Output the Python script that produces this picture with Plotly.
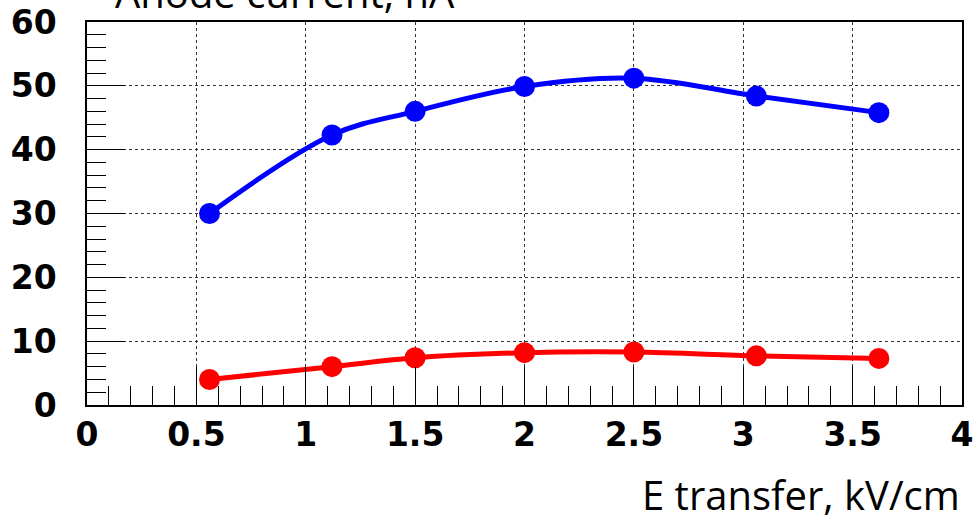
import plotly.graph_objects as go

# Transfer field (kV/cm) and anode currents (nA) for the two configurations
e_transfer = [0.56, 1.12, 1.5, 2.0, 2.5, 3.06, 3.62]
current_blue = [30.0, 42.3, 46.0, 49.9, 51.2, 48.4, 45.8]
current_red = [4.0, 6.0, 7.4, 8.2, 8.3, 7.7, 7.3]

x_ticks = [0, 0.5, 1, 1.5, 2, 2.5, 3, 3.5, 4]
x_tick_text = ["0", "0.5", "1", "1.5", "2", "2.5", "3", "3.5", "4"]
y_ticks = [0, 10, 20, 30, 40, 50, 60]

fig = go.Figure()
for ys, col in [(current_blue, "#0000ff"), (current_red, "#ff0000")]:
    fig.add_trace(go.Scatter(
        x=e_transfer, y=ys, mode="lines+markers",
        line=dict(color=col, width=5, shape="spline", smoothing=1.0),
        marker=dict(color=col, size=21, symbol="circle"),
        showlegend=False,
    ))

tick_font = dict(family="DejaVu Sans", size=33, color="black", weight="bold")
title_font = dict(family="Open Sans", size=40, color="black")

fig.update_xaxes(
    range=[0, 4], tickvals=x_ticks, ticktext=x_tick_text,
    ticks="inside", ticklen=38, tickwidth=1, tickcolor="black",
    minor=dict(dtick=0.1, ticks="inside", ticklen=19, tickwidth=1,
               tickcolor="black", showgrid=False),
    showgrid=True, gridcolor="#333333", griddash="dot", gridwidth=1,
    showline=True, linecolor="black", linewidth=1.5, mirror=True,
    zeroline=False, tickfont=tick_font, ticklabelstandoff=0,
    automargin=False,
)
fig.update_yaxes(
    range=[0, 60], tickvals=y_ticks,
    ticks="inside", ticklen=38, tickwidth=1, tickcolor="black",
    minor=dict(dtick=2, ticks="inside", ticklen=19, tickwidth=1,
               tickcolor="black", showgrid=False),
    showgrid=True, gridcolor="#333333", griddash="dot", gridwidth=1,
    showline=True, linecolor="black", linewidth=1.5, mirror=True,
    zeroline=False, tickfont=tick_font, ticklabelstandoff=22,
    automargin=False,
)

fig.add_annotation(
    text="Anode current, nA", xref="paper", yref="paper",
    x=0.03, y=1.0, xanchor="left", yanchor="bottom",
    showarrow=False, font=title_font,
)
fig.add_annotation(
    text="E transfer, kV/cm", xref="paper", yref="paper",
    x=1.0, y=-0.31, xanchor="right", yanchor="bottom",
    showarrow=False, font=title_font,
)

fig.update_layout(
    width=979, height=523,
    margin=dict(l=87, r=17, t=22, b=118),
    paper_bgcolor="white", plot_bgcolor="white",
)

fig.write_html("out.html")
